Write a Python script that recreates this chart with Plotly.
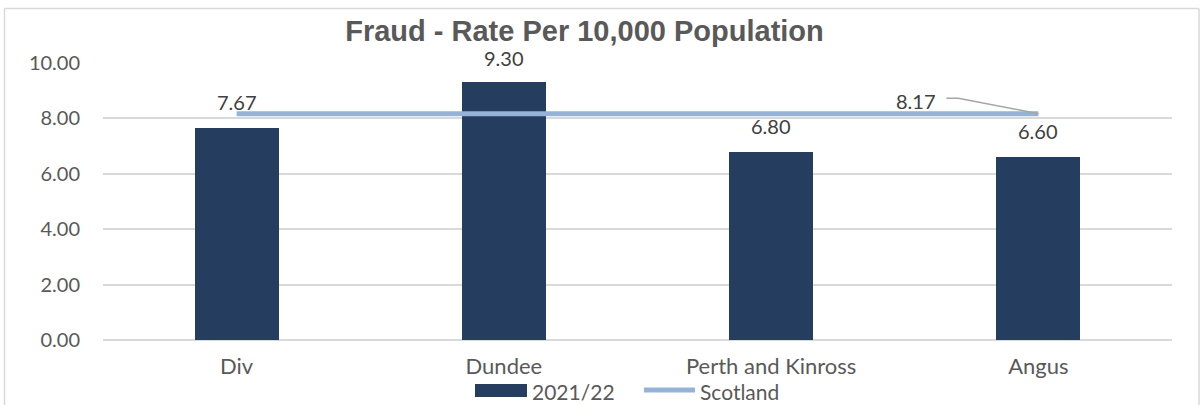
import plotly.graph_objects as go

categories = ["Div", "Dundee", "Perth and Kinross", "Angus"]
rate_2021_22 = [7.67, 9.30, 6.80, 6.60]
scotland = [8.17, 8.17, 8.17, 8.17]
y_ticks = [0, 2, 4, 6, 8, 10]

W, H = 1203, 405
L, R, T, B = 103, 31, 63, 65
PW, PH = W - L - R, H - T - B


def px2x(px):
    return (px - L) / PW


def py2y(py):
    return (H - B - py) / PH


BAR = "#253E5F"
LINE = "#95B3D7"
GRID = "#D9D9D9"
TICK = "#595959"
LABEL = "#404040"
FONT = "Lato"

fig = go.Figure()
fig.add_trace(go.Bar(
    x=categories, y=rate_2021_22, name="2021/22",
    marker=dict(color=BAR, line=dict(width=0)), width=0.315,
    showlegend=False,
))
fig.add_trace(go.Scatter(
    x=categories, y=scotland, name="Scotland", mode="lines",
    line=dict(color=LINE, width=5), showlegend=False,
))

annotations = []
for c, v in zip(categories, rate_2021_22):
    # labels near the top of the plot sit slightly closer to the bar (as in Excel)
    shift = 24 if v > 9 else 26
    annotations.append(dict(
        x=c, y=v, xref="x", yref="y", text=f"{v:.2f}", showarrow=False,
        yanchor="middle", yshift=shift, font=dict(family=FONT, size=20, color=LABEL),
    ))

# Scotland data label with leader line (on last point)
annotations.append(dict(
    x=categories[-1], y=scotland[-1], xref="x", yref="y", text=f"{scotland[-1]:.2f}",
    showarrow=False, xanchor="center", yanchor="middle", xshift=-122, yshift=13,
    font=dict(family=FONT, size=20, color=LABEL),
))

# custom legend text
annotations.append(dict(
    x=px2x(531), y=py2y(391), xref="paper", yref="paper", text="2021/22",
    showarrow=False, xanchor="left", yanchor="middle", borderpad=0,
    font=dict(family=FONT, size=21, color=TICK),
))
annotations.append(dict(
    x=px2x(699), y=py2y(391), xref="paper", yref="paper", text="Scotland",
    showarrow=False, xanchor="left", yanchor="middle", borderpad=0,
    font=dict(family=FONT, size=21, color=TICK),
))

shapes = [
    # leader line for Scotland label
    dict(type="path", xref="x", yref="y", xsizemode="pixel", ysizemode="pixel",
         xanchor=categories[-1], yanchor=scotland[-1],
         path="M -92,15.5 L -80,15.5 L 0,0",
         line=dict(color="#A6A6A6", width=1.5)),
    # legend symbols
    dict(type="rect", xref="paper", yref="paper",
         x0=px2x(475), x1=px2x(527), y0=py2y(397), y1=py2y(384),
         fillcolor=BAR, line=dict(width=0)),
    dict(type="line", xref="paper", yref="paper",
         x0=px2x(644), x1=px2x(695), y0=py2y(390), y1=py2y(390),
         line=dict(color=LINE, width=5)),
    # chart border
    dict(type="line", xref="paper", yref="paper",
         x0=px2x(4.5), x1=px2x(4.5), y0=py2y(8.5), y1=py2y(420),
         line=dict(color=GRID, width=1.5)),
    dict(type="line", xref="paper", yref="paper",
         x0=px2x(4.5), x1=px2x(1199), y0=py2y(8.5), y1=py2y(8.5),
         line=dict(color=GRID, width=1.5)),
    dict(type="line", xref="paper", yref="paper",
         x0=px2x(1199), x1=px2x(1199), y0=py2y(8.5), y1=py2y(420),
         line=dict(color=GRID, width=1.5)),
]

fig.update_layout(
    width=W, height=H,
    margin=dict(l=L, r=R, t=T, b=B),
    paper_bgcolor="white", plot_bgcolor="white",
    title=dict(text="<b>Fraud - Rate Per 10,000 Population</b>",
               xref="container", yref="container",
               x=584.5 / W, y=1 - 31 / H, xanchor="center", yanchor="middle",
               font=dict(family="Liberation Sans", size=29, color=TICK)),
    xaxis=dict(type="category", range=[-0.5, 3.5], showgrid=False,
               showline=False, zeroline=False, ticks="",
               tickfont=dict(family=FONT, size=22, color=TICK),
               ticklabelstandoff=11, fixedrange=True),
    yaxis=dict(range=[0, 10], tickvals=y_ticks, tickformat=".2f",
               showgrid=True, gridcolor=GRID, gridwidth=1.5,
               zeroline=True, zerolinecolor=GRID, zerolinewidth=1.5,
               showline=False, ticks="",
               tickfont=dict(family=FONT, size=20, color=TICK),
               ticklabelstandoff=22, fixedrange=True),
    bargap=0.0,
    annotations=annotations,
    shapes=shapes,
    showlegend=False,
)

fig.write_html(
    "out.html",
    config={"displayModeBar": False},
    post_script="document.body.style.margin='0';document.body.style.overflow='hidden';",
)
